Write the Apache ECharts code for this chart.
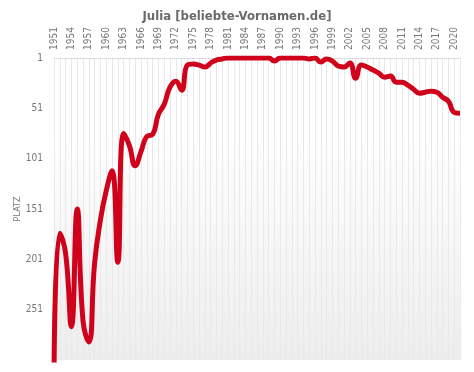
<!DOCTYPE html>
<html><head><meta charset="utf-8">
<script src="https://cdn.jsdelivr.net/npm/echarts@6/dist/echarts.min.js"></script>
<style>html,body{margin:0;padding:0;background:#fff}#c{width:474px;height:372px}</style>
</head><body><div id="c"></div>
<script>
const years = [];
for (let y = 1951; y <= 2021; y++) years.push(String(y));
const ranks = [
  320, 175, 195, 268, 151, 262, 283, 205, 162, 133,
  113, 204, 76, 88, 108, 94, 79, 77, 57, 47,
  30, 24, 33, 8, 7, 8, 10, 6, 3, 2,
  1, 1, 1, 1, 1, 1, 1, 1, 4, 1,
  1, 1, 1, 1, 2, 1, 5, 2, 4, 9,
  10, 6, 21, 8, 10, 13, 16, 20, 19, 25,
  25, 28, 32, 36, 35, 34, 35, 40, 44, 55,
  56
];
const titleText = 'Julia [beliebte-Vornamen.de]';
const yName = 'PLATZ';
const FONT = '"DejaVu Sans Condensed", Roboto, sans-serif';

const chart = echarts.init(document.getElementById('c'));
chart.setOption({
  animation: false,
  title: {
    text: titleText, left: 'center', top: 5,
    textStyle: { fontFamily: FONT, fontWeight: 'bold', fontSize: 13, color: '#6a6a6a' }
  },
  grid: {
    left: 54, right: 14, top: 58, bottom: 12, show: true, borderWidth: 0,
    backgroundColor: {
      type: 'linear', x: 0, y: 0, x2: 0, y2: 1,
      colorStops: [{ offset: 0, color: '#ffffff' }, { offset: 0.25, color: '#ffffff' }, { offset: 1, color: '#ededed' }]
    }
  },
  xAxis: {
    type: 'category', data: years, position: 'top', boundaryGap: false,
    axisLine: { show: true, lineStyle: { color: '#d4d4d4', type: 'dotted', width: 1 } },
    axisTick: { show: false },
    axisLabel: { interval: 2, rotate: -90, color: '#777', fontSize: 10, fontFamily: FONT, margin: 8 },
    splitLine: { show: true, interval: 0, lineStyle: { color: '#e9e9e9', width: 1 } }
  },
  yAxis: {
    type: 'value', inverse: true, min: 1, max: 301, interval: 50,
    name: yName, nameLocation: 'middle', nameGap: 32, nameRotate: 90, nameMoveOverlap: false,
    nameTextStyle: { color: '#777', fontSize: 9, fontFamily: FONT },
    axisLine: { show: false }, axisTick: { show: false },
    axisLabel: { color: '#777', fontSize: 10, fontFamily: FONT, showMaxLabel: false, margin: 11 },
    splitLine: { show: false }
  },
  series: [{
    type: 'line', data: ranks, smooth: 0.5, symbol: 'none', clip: true,
    lineStyle: { color: '#d0021b', width: 5 }
  }]
});
</script></body></html>
